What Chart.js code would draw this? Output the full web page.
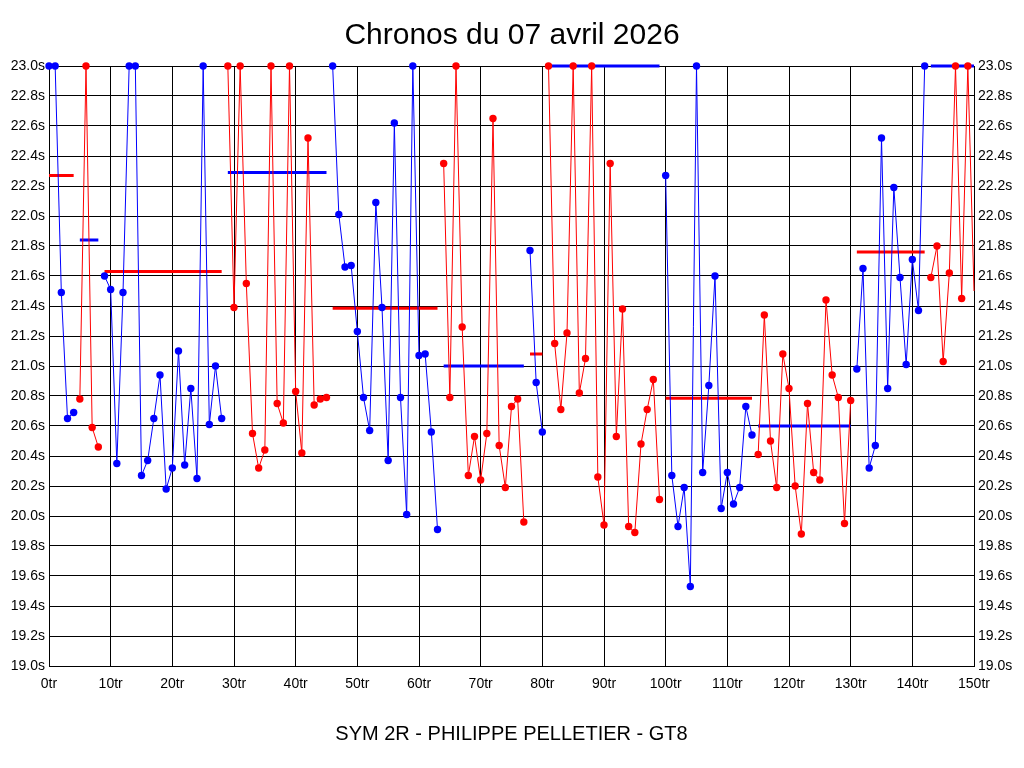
<!DOCTYPE html>
<html lang="fr">
<head>
<meta charset="utf-8">
<title>Chronos du 07 avril 2026</title>
<script src="https://cdn.jsdelivr.net/npm/chart.js@4.4.1/dist/chart.umd.min.js"></script>
<style>
    html, body { margin: 0; padding: 0; background: #ffffff; }
    #zone { width: 1024px; height: 768px; }
</style>
</head>
<body>
<div id="zone"><canvas id="graphique"></canvas></div>
<script>
// Temps au tour (s), un par tour de 0 à 150 (les tours > 23 s sont plafonnés à 23.0)
const chronos = [
    23.0, 23.0, 21.49, 20.65, 20.69, 20.78, 23.0, 20.59, 20.46, 21.60,
    21.51, 20.35, 21.49, 23.0, 23.0, 20.27, 20.37, 20.65, 20.94, 20.18,
    20.32, 21.10, 20.34, 20.85, 20.25, 23.0, 20.61, 21.00, 20.65, 23.0,
    21.39, 23.0, 21.55, 20.55, 20.32, 20.44, 23.0, 20.75, 20.62, 23.0,
    20.83, 20.42, 22.52, 20.74, 20.78, 20.79, 23.0, 22.01, 21.66, 21.67,
    21.23, 20.79, 20.57, 22.09, 21.39, 20.37, 22.62, 20.79, 20.01, 23.0,
    21.07, 21.08, 20.56, 19.91, 22.35, 20.79, 23.0, 21.26, 20.27, 20.53,
    20.24, 20.55, 22.65, 20.47, 20.19, 20.73, 20.78, 19.96, 21.77, 20.89,
    20.56, 23.0, 21.15, 20.71, 21.22, 23.0, 20.82, 21.05, 23.0, 20.26,
    19.94, 22.35, 20.53, 21.38, 19.93, 19.89, 20.48, 20.71, 20.91, 20.11,
    22.27, 20.27, 19.93, 20.19, 19.53, 23.0, 20.29, 20.87, 21.60, 20.05,
    20.29, 20.08, 20.19, 20.73, 20.54, 20.41, 21.34, 20.50, 20.19, 21.08,
    20.85, 20.20, 19.88, 20.75, 20.29, 20.24, 21.44, 20.94, 20.79, 19.95,
    20.77, 20.98, 21.65, 20.32, 20.47, 22.52, 20.85, 22.19, 21.59, 21.01,
    21.71, 21.37, 23.0, 21.59, 21.80, 21.03, 21.62, 23.0, 21.45, 23.0,
    21.50
];

// Premier tour de chaque relais
const debutsRelais = [0, 5, 9, 29, 46, 64, 78, 81, 100, 115, 131, 143];
// Moyenne affichée pour chaque relais
const moyennes = [22.27, 21.84, 21.63, 22.29, 21.385, 21.00, 21.08, 23.0, 20.785, 20.60, 21.76, 23.0];

const BLEU = '#0000ff';
const ROUGE = '#ff0000';
const dernierTour = chronos.length - 1;

function finRelais(i) {
    return i < debutsRelais.length - 1 ? debutsRelais[i + 1] - 1 : dernierTour;
}

// Points d'une couleur (relais pairs = bleu, impairs = rouge), null ailleurs
function serieRelais(parite) {
    const pts = [];
    debutsRelais.forEach((deb, i) => {
        const fin = finRelais(i);
        for (let t = deb; t <= fin; t++) {
            pts.push({ x: t, y: i % 2 === parite ? chronos[t] : null });
        }
    });
    return pts;
}

// le dernier tour tombe sur le bord droit : pas de rond
const rayon = (ctx) => ctx.raw && ctx.raw.x === dernierTour ? 0 : 3.7;

const jeux = [
    {
        data: serieRelais(0), borderColor: BLEU, backgroundColor: BLEU,
        borderWidth: 1, pointRadius: rayon, pointBorderWidth: 0, spanGaps: false, clip: false
    },
    {
        data: serieRelais(1), borderColor: ROUGE, backgroundColor: ROUGE,
        borderWidth: 1, pointRadius: rayon, pointBorderWidth: 0, spanGaps: false, clip: false
    }
];

// Lignes de moyenne, couleur opposée à celle du relais
debutsRelais.forEach((deb, i) => {
    const cor = i % 2 === 0 ? ROUGE : BLEU;
    jeux.push({
        data: [{ x: deb, y: moyennes[i] }, { x: finRelais(i), y: moyennes[i] }],
        borderColor: cor, backgroundColor: cor,
        borderWidth: 3, pointRadius: 0, clip: false
    });
});

const police = "'Liberation Sans', Arial, sans-serif";

function axeY(position, largeur) {
    return {
        type: 'linear',
        position: position,
        min: 19.0,
        max: 23.0,
        afterFit: (axe) => { axe.width = largeur; },
        ticks: {
            stepSize: 0.2,
            padding: 4,
            color: '#000',
            font: { family: police, size: 14 },
            callback: (v) => v.toFixed(1) + 's'
        },
        grid: { color: '#000', lineWidth: 1, drawTicks: false },
        border: { color: '#000', width: 1 }
    };
}

new Chart(document.getElementById('graphique'), {
    type: 'line',
    data: { datasets: jeux },
    options: {
        responsive: true,
        maintainAspectRatio: false,
        animation: false,
        events: [],
        layout: { padding: 0 },
        scales: {
            x: {
                type: 'linear',
                min: 0,
                max: 150,
                afterFit: (axe) => { axe.height = 102; },
                ticks: {
                    stepSize: 10,
                    padding: 10,
                    maxRotation: 0,
                    color: '#000',
                    font: { family: police, size: 14 },
                    callback: (v) => v + 'tr'
                },
                grid: { color: '#000', lineWidth: 1, drawTicks: false },
                border: { color: '#000', width: 1 },
                title: {
                    display: true,
                    text: 'SYM 2R - PHILIPPE PELLETIER - GT8',
                    color: '#000',
                    font: { family: police, size: 20 },
                    padding: { top: 0, bottom: 22 }
                }
            },
            y: axeY('left', 49),
            y2: axeY('right', 50)
        },
        plugins: {
            legend: { display: false },
            tooltip: { enabled: false },
            title: {
                display: true,
                text: 'Chronos du 07 avril 2026',
                color: '#000',
                font: { family: police, size: 30, weight: 'normal' },
                padding: { top: 18, bottom: 12 }
            }
        }
    }
});
</script>
</body>
</html>
